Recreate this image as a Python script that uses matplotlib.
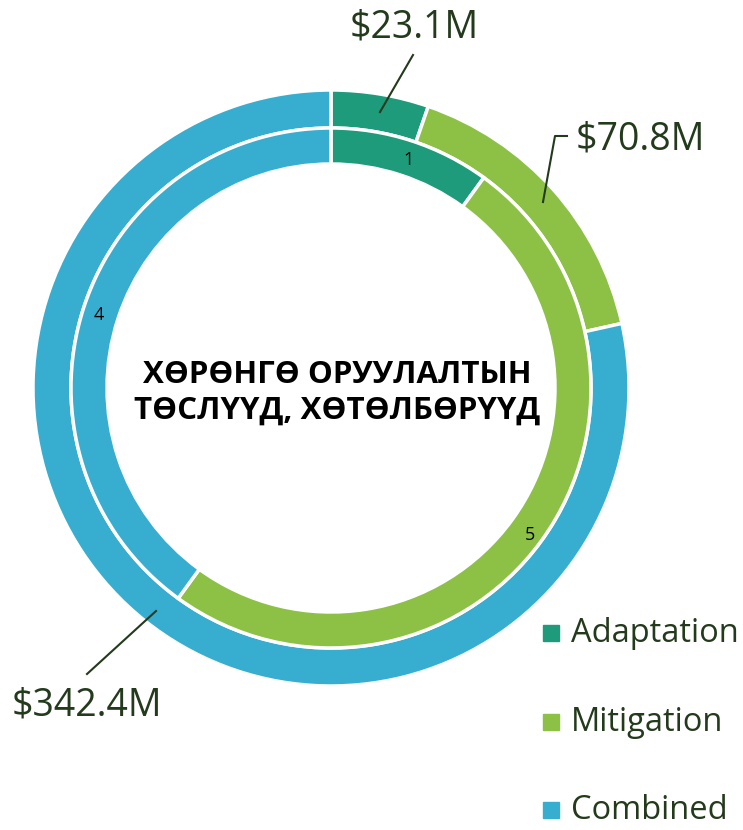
import matplotlib
matplotlib.use("Agg")
import matplotlib.pyplot as plt

categories = ["Adaptation", "Mitigation", "Combined"]
amounts = [23.1, 70.8, 342.4]  # $M, outer ring
counts = [1, 5, 4]  # number of projects, inner ring
amount_labels = ["$23.1M", "$70.8M", "$342.4M"]
title = "ХӨРӨНГӨ ОРУУЛАЛТЫН\nТӨСЛҮҮД, ХӨТӨЛБӨРҮҮД"

colors = ["#1e9b7b", "#8cc146", "#37aed0"]
text_color = "#233a1c"
font = ["Open Sans", "DejaVu Sans"]

W, H = 743, 830
fig = plt.figure(figsize=(W / 100, H / 100), dpi=100)
ax = fig.add_axes([0, 0, 1, 1])

cx, cy = 331, 388
wedge_kw = dict(edgecolor="white", linewidth=2.5)

# y axis is inverted below, so start at -90 / counterclock gives
# "from 12 o'clock, clockwise" on screen
ax.pie(amounts, colors=colors, radius=298, center=(cx, cy), startangle=-90,
       counterclock=True, wedgeprops=dict(width=38, **wedge_kw), frame=True)
ax.pie(counts, colors=colors, radius=260, center=(cx, cy), startangle=-90,
       counterclock=True, wedgeprops=dict(width=36, **wedge_kw), frame=True)
ax.set_xlim(0, W)
ax.set_ylim(H, 0)
ax.set_aspect("equal")
ax.axis("off")

# inner ring count labels
for (x, y), n in zip([(409, 160), (530, 535), (99, 315)], counts):
    ax.text(x, y, str(n), ha="center", va="center", fontsize=13,
            family=font, color="black")

# outer ring amount labels with leader lines
ax.plot([413, 380], [55, 112], color=text_color, lw=1.5)
ax.plot([567, 555, 543], [136, 136, 202], color=text_color, lw=1.5)
ax.plot([156, 87], [611, 674], color=text_color, lw=1.5)
for (x, y), lab in zip([(414, 27), (640, 139), (87, 705)], amount_labels):
    ax.text(x, y, lab, ha="center", va="center", fontsize=27, family=font,
            color=text_color)

ax.text(337, 393, title, ha="center", va="center", fontsize=22.5,
        fontweight="bold", family=font, color="black", linespacing=1.25)

# legend
for y, c, name in zip([633, 722, 810], colors, categories):
    ax.add_patch(plt.Rectangle((543, y - 8), 16, 16, color=c))
    ax.text(571, y, name, ha="left", va="center", fontsize=23.5, family=font,
            color=text_color)

fig.savefig("out.png", dpi=100)
